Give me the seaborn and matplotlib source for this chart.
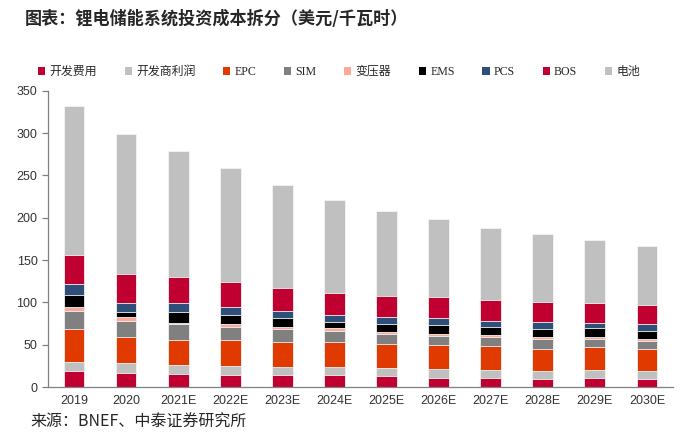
import numpy as np
import pandas as pd
import matplotlib
matplotlib.use('Agg')
import matplotlib.pyplot as plt
import seaborn as sns
from matplotlib.patches import Patch

# years and cost components (USD/kWh), bottom to top
years = ['2019', '2020', '2021E', '2022E', '2023E', '2024E',
         '2025E', '2026E', '2027E', '2028E', '2029E', '2030E']
kaifa_feiyong = [19, 16.5, 15.7, 14.5, 13.8, 13.8, 12.6, 10.6, 10.6, 9.4, 10.6, 9.4]
kaifa_lirun = [10, 11.4, 10.3, 10.3, 10.2, 10.2, 9.8, 10.2, 9.1, 9.5, 9.1, 9.5]
epc = [40, 30.7, 29.8, 30.3, 28.7, 28.7, 28.3, 28.4, 28.3, 26.3, 27.1, 25.9]
sim = [20.5, 18.9, 18.1, 16.1, 15.7, 13.8, 12.2, 11.4, 10.6, 11.4, 10.2, 9.9]
bianyaqi = [5.5, 4.7, 2.0, 3.1, 2.0, 2.7, 2.0, 2.3, 2.3, 2.0, 2.0, 1.9]
ems = [13.5, 6.7, 13.0, 11.0, 11.4, 7.1, 9.8, 10.2, 9.5, 10.2, 10.2, 9.1]
pcs = [13, 10.2, 10.6, 9.0, 7.9, 9.4, 7.9, 7.9, 7.1, 7.9, 6.3, 8.2]
bos = [34.5, 34.6, 30.3, 29.5, 27.1, 26.0, 25.1, 24.8, 25.1, 24.0, 23.6, 23.6]
dianchi = [176, 165.2, 148.6, 134.5, 121.9, 108.9, 100.7, 92.8, 85.8, 79.8, 74.3, 68.8]

names = ['开发费用', '开发商利润', 'EPC', 'SIM', '变压器', 'EMS', 'PCS', 'BOS', '电池']
series = [kaifa_feiyong, kaifa_lirun, epc, sim, bianyaqi, ems, pcs, bos, dianchi]
colors = ['#C00030', '#C0C0C0', '#E03A00', '#808080', '#FFA898',
          '#000000', '#2E4F7A', '#C00030', '#C0C0C0']

df = pd.DataFrame(dict(zip(names, series)), index=years)
cum = df.cumsum(axis=1)

sns.set_style('white')
plt.rcParams['font.family'] = ['Liberation Sans', 'Noto Sans CJK SC']

fig = plt.figure(figsize=(6.84, 4.42), dpi=100)
ax = fig.add_axes([0.070, 0.1244, 0.914, 0.670])

# stacked bars: draw cumulative totals from the top layer down
for name, col in reversed(list(zip(names, colors))):
    d = pd.DataFrame({'year': years, 'val': cum[name].values})
    sns.barplot(data=d, x='year', y='val', color=col, width=0.4,
                edgecolor='#f4f4f4', linewidth=0.6, ax=ax, saturation=1)

ax.set_xlim(-0.5, 11.5)
ax.set_ylim(0, 350)
ax.set_yticks(np.arange(0, 351, 50))
ax.set_xlabel('')
ax.set_ylabel('')
for s in ['top', 'right']:
    ax.spines[s].set_visible(False)
for s in ['left', 'bottom']:
    ax.spines[s].set_color('#808080')
    ax.spines[s].set_linewidth(0.9)
ax.set_xticks(np.arange(-0.5, 12, 1), minor=True)
ax.tick_params(axis='x', which='major', length=0, pad=6, labelsize=9, labelcolor='#333333')
ax.tick_params(axis='x', which='minor', length=4, width=0.9, color='#808080', direction='out')
ax.tick_params(axis='y', length=4, width=0.9, color='#808080', direction='out',
               labelsize=9, labelcolor='#333333', left=True)

handles = [Patch(facecolor=c, edgecolor='none') for c in colors]
fig.legend(handles, names, loc='center left', bbox_to_anchor=(0.047, 0.837), ncol=9,
           frameon=False, handlelength=0.6, handleheight=0.6, handletextpad=0.35,
           columnspacing=2.32, borderpad=0,
           prop={'family': ['Liberation Serif', 'Noto Sans CJK SC'], 'size': 8.6})

fig.text(0.036, 0.958, '图表：锂电储能系统投资成本拆分（美元/千瓦时）', fontsize=12.3,
         fontweight='bold', family=['Noto Sans CJK SC'], va='center', ha='left')
fig.text(0.044, 0.045, '来源：BNEF、中泰证券研究所', fontsize=11.5,
         family=['Noto Sans CJK SC'], va='center', ha='left')

fig.savefig('out.png', dpi=100)
